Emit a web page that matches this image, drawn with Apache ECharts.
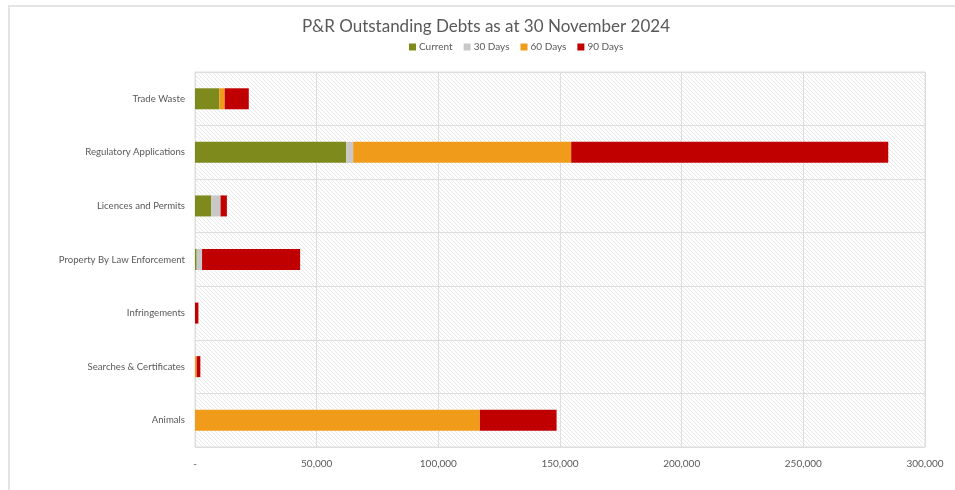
<!DOCTYPE html>
<html>
<head>
<meta charset="utf-8">
<title>P&amp;R Outstanding Debts</title>
<script src="https://cdn.jsdelivr.net/npm/echarts@6/dist/echarts.min.js"></script>
<style>
  html, body { margin: 0; padding: 0; background: #fff; }
  #frame { position: absolute; left: 8px; top: 5px; right: 0; bottom: 0; border-left: 2px solid #e4e4e4; border-top: 2px solid #e4e4e4; }
  #chart { width: 955px; height: 490px; }
</style>
</head>
<body>
<div id="frame"></div>
<div id="chart"></div>
<script>
// Debt categories, top to bottom
const categories = [
  'Trade Waste',
  'Regulatory Applications',
  'Licences and Permits',
  'Property By Law Enforcement',
  'Infringements',
  'Searches & Certificates',
  'Animals'
];

// Outstanding amounts by ageing bucket ($)
const current = [10000, 62100, 6700, 700, 0, 0, 0];
const days30  = [0, 2900, 3800, 2200, 0, 0, 0];
const days60  = [2200, 89600, 0, 0, 0, 700, 117100];
const days90  = [9900, 130300, 2600, 40300, 1400, 1500, 31500];

const seriesNames = ['Current', '30 Days', '60 Days', '90 Days'];
const seriesColors = ['#7F8A1C', '#C8C8C8', '#F09C1A', '#C00000'];

// Light downward-diagonal hatch for the plot background
function hatch() {
  const s = 4;
  const c = document.createElement('canvas');
  c.width = s; c.height = s;
  const g = c.getContext('2d');
  g.fillStyle = '#ffffff';
  g.fillRect(0, 0, s, s);
  g.strokeStyle = '#e8e8e8';
  g.lineWidth = 1;
  g.beginPath();
  g.moveTo(-1, -1); g.lineTo(s + 1, s + 1);
  g.moveTo(-1, s - 1); g.lineTo(1, s + 1);
  g.moveTo(s - 1, -1); g.lineTo(s + 1, 1);
  g.stroke();
  return c;
}

const font = 'Lato, "Open Sans", sans-serif';
const chart = echarts.init(document.getElementById('chart'), null, { renderer: 'canvas' });

const values = [current, days30, days60, days90];

chart.setOption({
  animation: false,
  title: {
    text: 'P&R Outstanding Debts as at 30 November 2024',
    left: 481, top: 13, textAlign: 'center',
    textStyle: { fontFamily: font, fontSize: 17, fontWeight: 'normal', color: '#595959' }
  },
  legend: {
    top: 37, left: 404,
    data: seriesNames,
    itemWidth: 7, itemHeight: 7, itemGap: 11,
    icon: 'rect',
    textStyle: { fontFamily: font, fontSize: 10, color: '#595959', padding: [0, 0, 0, -2] }
  },
  grid: {
    left: 195, right: 30, top: 72, bottom: 43,
    show: true,
    backgroundColor: { image: hatch(), repeat: 'repeat' },
    borderColor: '#dedede', borderWidth: 1
  },
  xAxis: {
    type: 'value',
    min: 0, max: 300000, interval: 50000,
    axisLine: { show: false },
    axisTick: { show: false },
    splitLine: { show: true, lineStyle: { color: '#dedede', width: 1 } },
    axisLabel: {
      fontFamily: font, fontSize: 10, color: '#595959', margin: 12,
      formatter: v => v === 0 ? '-' : v.toLocaleString('en-US')
    }
  },
  yAxis: {
    type: 'category',
    inverse: true,
    data: categories,
    axisLine: { show: true, lineStyle: { color: '#dedede' } },
    axisTick: { show: false },
    splitLine: { show: true, lineStyle: { color: '#dedede', width: 1 } },
    axisLabel: { fontFamily: font, fontSize: 9.6, color: '#595959', margin: 10 }
  },
  series: seriesNames.map((name, i) => ({
    name: name,
    type: 'bar',
    stack: 'total',
    barWidth: 21,
    data: values[i],
    itemStyle: { color: seriesColors[i] }
  }))
});
</script>
</body>
</html>
